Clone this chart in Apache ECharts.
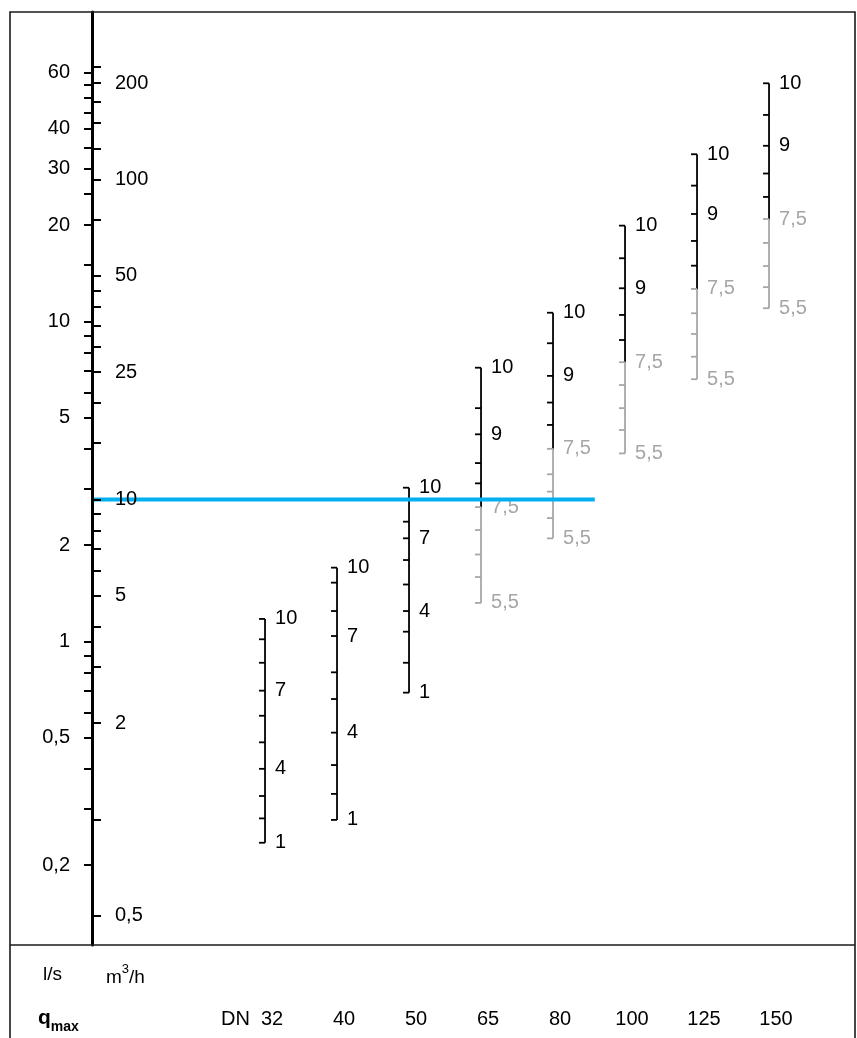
<!DOCTYPE html>
<html>
<head>
<meta charset="utf-8">
<style>
  html, body { margin: 0; padding: 0; background: #fff; }
  #chart { width: 857px; height: 1038px; }
</style>
<script src="https://cdn.jsdelivr.net/npm/echarts@6/dist/echarts.min.js"></script>
</head>
<body>
<div id="chart"></div>
<script>
// main flow scale: l/s on the left of the line, m3/h on the right
const lsTicks = [60, 55, 50, 45, 40, 35, 30, 25, 20, 15, 10, 9, 8, 7, 6, 5, 4, 3, 2, 1, 0.9, 0.8, 0.7, 0.6, 0.5, 0.4, 0.3, 0.2]
const lsLabels = [60, 40, 30, 20, 10, 5, 2, 1, 0.5, 0.2]
const m3hTicks = [225, 200, 175, 150, 125, 100, 75, 50, 45, 40, 35, 30, 25, 20, 15, 10, 9, 8, 7, 6, 5, 4, 3, 2, 1, 0.5]
const m3hLabels = [200, 100, 50, 25, 10, 5, 2, 0.5]
const lsRange = [0.1126, 92.7]
const lsToM3h = 3.6

// DN scales
const dnNames = ['32', '40', '50', '65', '80', '100', '125', '150']
const smallScale = [10, 9, 8, 7, 6, 5, 4, 3, 2, 1]
const smallLabels = [10, 7, 4, 1]
const bigScale = [10, 9.5, 9, 8.5, 8, 7.5, 7, 6.5, 6, 5.5]
const bigLabels = [10, 9, 7.5, 5.5]
const greyFrom = 7.5

// flow in l/s at every tick of each DN scale, top to bottom
const dn32 = [1.176, 1.016, 0.858, 0.702, 0.586, 0.484, 0.400, 0.329, 0.280, 0.235]
const dn40 = [1.701, 1.527, 1.245, 1.040, 0.801, 0.661, 0.519, 0.411, 0.334, 0.277]
const dn50 = [3.024, 2.788, 2.368, 2.101, 1.797, 1.507, 1.245, 1.073, 0.858, 0.692]
const dn65 = [7.17, 5.36, 4.44, 3.61, 3.12, 2.63, 2.23, 1.87, 1.59, 1.32]
const dn80 = [10.65, 8.55, 6.76, 5.58, 4.75, 4.00, 3.33, 2.94, 2.43, 2.10]
const dn100 = [19.93, 15.76, 12.70, 10.48, 8.75, 7.46, 6.33, 5.36, 4.58, 3.87]
const dn125 = [33.31, 26.58, 21.67, 17.85, 14.94, 12.64, 10.61, 9.14, 7.76, 6.60]
const dn150 = [55.5, 44.2, 35.4, 29.0, 24.5, 20.9, 17.6, 14.9, 12.8, 11.0]
const dnFlows = [dn32, dn40, dn50, dn65, dn80, dn100, dn125, dn150]

// reading line at 10 m3/h, running out to just past DN 80
const readingM3h = 10
const readingEnd = 4.58

const xRange = [-2.403, 8.194]

const FONT = '"Liberation Sans", Arial, sans-serif'
const GREY = '#a6a6a6'
const comma = v => String(v).replace('.', ',')

const chart = echarts.init(document.getElementById('chart'))

const renderScale = (params, api) => {
  const i = api.value(0)
  const big = i >= 3
  const vals = big ? bigScale : smallScale
  const labs = big ? bigLabels : smallLabels
  const pts = dnFlows[i].map(q => api.coord([i, q]))
  const split = big ? vals.indexOf(greyFrom) : pts.length - 1
  const last = pts.length - 1
  const children = [{
    type: 'line',
    shape: { x1: pts[0][0], y1: pts[0][1], x2: pts[split][0], y2: pts[split][1] },
    style: { stroke: '#000', lineWidth: 1.8 }
  }]
  if (big) {
    children.push({
      type: 'line',
      shape: { x1: pts[split][0], y1: pts[split][1], x2: pts[last][0], y2: pts[last][1] },
      style: { stroke: GREY, lineWidth: 1.8 }
    })
  }
  vals.forEach((v, k) => {
    const col = big && k >= split ? GREY : '#000'
    children.push({
      type: 'line',
      shape: { x1: pts[k][0] - 6, y1: pts[k][1], x2: pts[k][0], y2: pts[k][1] },
      style: { stroke: col, lineWidth: 1.8 }
    })
    if (labs.includes(v)) {
      children.push({
        type: 'text',
        x: pts[k][0] + 10, y: pts[k][1],
        style: { text: comma(v), fill: col, font: '20px ' + FONT, align: 'left', verticalAlign: 'middle' }
      })
    }
  })
  return { type: 'group', children }
}

const option = {
  animation: false,
  backgroundColor: '#fff',
  grid: { left: 92, right: 2, top: 12, bottom: 93, containLabel: false, outerBoundsMode: 'none' },
  xAxis: {
    type: 'value', min: xRange[0], max: xRange[1],
    axisLine: { show: false }, axisTick: { show: false }, splitLine: { show: false },
    axisLabel: {
      customValues: dnNames.map((_, i) => i),
      formatter: v => dnNames[Math.round(v)] || '',
      margin: 64, padding: [0, 0, 0, 14], color: '#000', fontSize: 20, fontFamily: FONT
    }
  },
  yAxis: [
    {
      type: 'log', min: lsRange[0], max: lsRange[1], position: 'left', z: 10,
      axisLine: { show: true, onZero: false, lineStyle: { color: '#000', width: 3 } },
      axisTick: { show: true, customValues: lsTicks, length: 8, lineStyle: { color: '#000', width: 2 } },
      axisLabel: { customValues: lsLabels, formatter: comma, margin: 22, color: '#000', fontSize: 20, fontFamily: FONT },
      splitLine: { show: false }, minorTick: { show: false }
    },
    {
      type: 'log', min: lsRange[0] * lsToM3h, max: lsRange[1] * lsToM3h, position: 'left', offset: 0, z: 10,
      axisLine: { show: false, onZero: false },
      axisTick: { show: true, inside: true, customValues: m3hTicks, length: 9, lineStyle: { color: '#000', width: 2 } },
      axisLabel: { inside: true, customValues: m3hLabels, formatter: comma, margin: 23, color: '#000', fontSize: 20, fontFamily: FONT },
      splitLine: { show: false }, minorTick: { show: false }
    }
  ],
  series: [
    {
      type: 'custom', name: 'DN',
      xAxisIndex: 0, yAxisIndex: 0,
      data: dnNames.map((_, i) => [i, dnFlows[i][0]]),
      renderItem: renderScale,
      silent: true, z: 2
    },
    {
      type: 'line', name: 'reading',
      xAxisIndex: 0, yAxisIndex: 1,
      data: [[xRange[0], readingM3h], [readingEnd, readingM3h]],
      symbol: 'none',
      lineStyle: { color: '#00b0f0', width: 4 },
      silent: true, z: 5
    }
  ],
  graphic: [
    {
      type: 'polyline', silent: true, z: 100,
      shape: { points: [[10, 1045], [10, 12], [855, 12], [855, 1045]] },
      style: { stroke: '#1a1a1a', lineWidth: 1.6, fill: null }
    },
    {
      type: 'line', silent: true, z: 100,
      shape: { x1: 10, y1: 945, x2: 855, y2: 945 },
      style: { stroke: '#1a1a1a', lineWidth: 1.6 }
    },
    {
      type: 'text', x: 62, y: 975,
      style: { text: 'l/s', fill: '#000', font: '19px ' + FONT, align: 'right', verticalAlign: 'middle' }
    },
    {
      type: 'text', x: 106, y: 975,
      style: {
        text: '{n|m}{s|3}{n|/h}', align: 'left', verticalAlign: 'middle',
        rich: {
          n: { fontSize: 19, fontFamily: FONT, fill: '#000', lineHeight: 24, verticalAlign: 'bottom' },
          s: { fontSize: 13, fontFamily: FONT, fill: '#000', lineHeight: 24, verticalAlign: 'top' }
        }
      }
    },
    {
      type: 'text', x: 38, y: 1021,
      style: {
        text: '{q|q}{m|max}', align: 'left', verticalAlign: 'middle',
        rich: {
          q: { fontSize: 21, fontWeight: 'bold', fontFamily: FONT, fill: '#000', lineHeight: 26, verticalAlign: 'top' },
          m: { fontSize: 14, fontWeight: 'bold', fontFamily: FONT, fill: '#000', lineHeight: 26, verticalAlign: 'bottom' }
        }
      }
    },
    {
      type: 'text', x: 250, y: 1019,
      style: { text: 'DN', fill: '#000', font: '20px ' + FONT, align: 'right', verticalAlign: 'middle' }
    }
  ]
}

chart.setOption(option)
window.addEventListener('resize', () => chart.resize())
</script>
</body>
</html>
